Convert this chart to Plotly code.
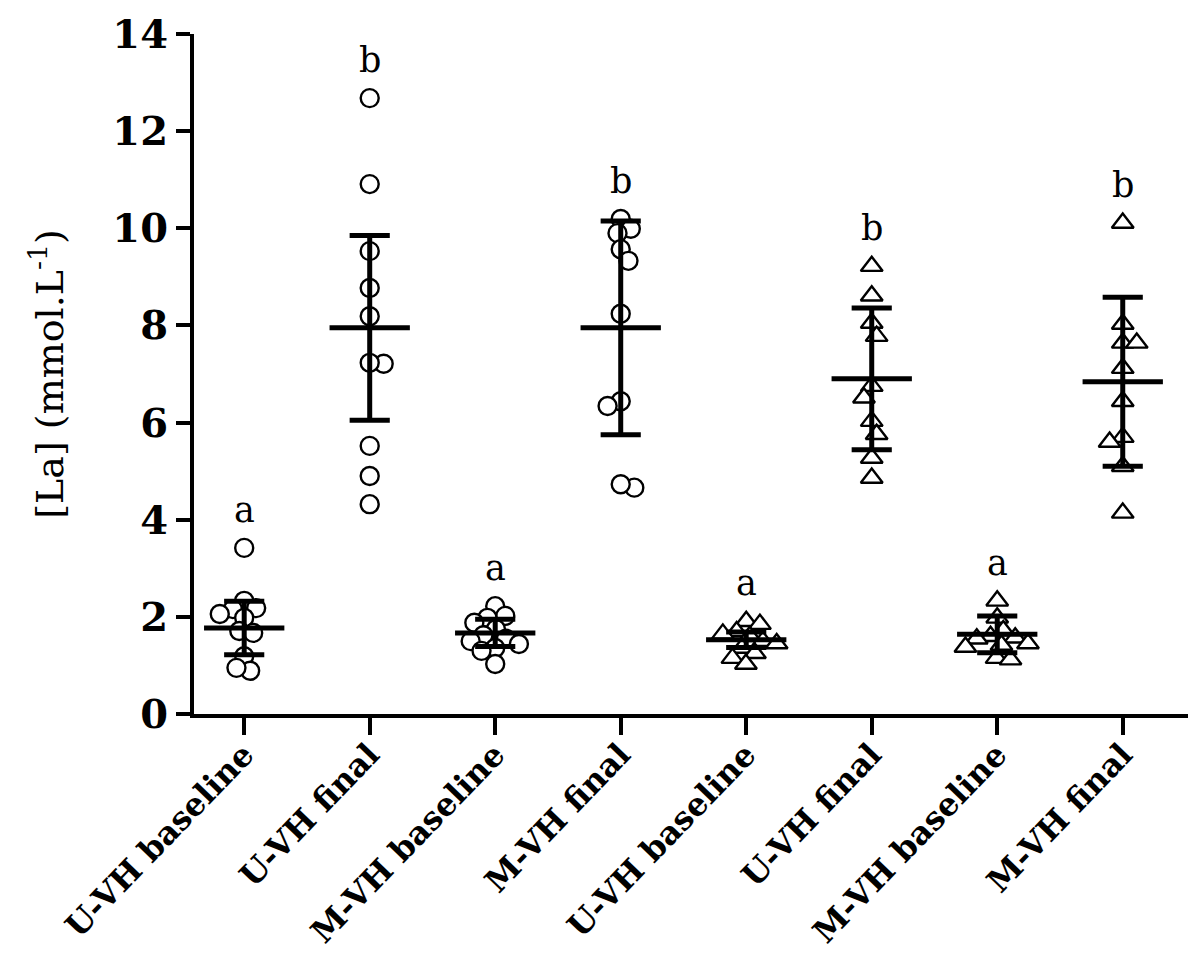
import numpy as np
import plotly.graph_objects as go

# categories along x (two circle groups, two triangle groups)
groups = ["U-VH baseline", "U-VH final", "M-VH baseline", "M-VH final",
          "U-VH baseline", "U-VH final", "M-VH baseline", "M-VH final"]

# blood lactate, mmol/L
circ_u_base = [3.42, 2.33, 2.16, 2.18, 1.98, 2.06, 1.71, 1.67, 1.19, 0.89, 0.95]
circ_u_final = [12.68, 10.91, 9.53, 8.77, 8.19, 7.21, 7.23, 5.52, 4.90, 4.32]
circ_m_base = [2.22, 2.02, 1.98, 1.88, 1.75, 1.62, 1.55, 1.50, 1.44, 1.36, 1.30, 1.03]
circ_m_final = [10.19, 9.99, 9.90, 9.57, 9.33, 8.24, 6.44, 6.34, 4.66, 4.73]
tri_u_base = [1.91, 1.85, 1.70, 1.65, 1.60, 1.50, 1.45, 1.36, 1.25, 1.15, 1.03]
tri_u_final = [9.22, 8.61, 8.05, 7.78, 6.75, 6.51, 6.03, 5.76, 5.27, 4.86]
tri_m_base = [2.33, 1.98, 1.72, 1.60, 1.57, 1.55, 1.45, 1.42, 1.38, 1.15, 1.12]
tri_m_final = [10.11, 8.03, 7.64, 7.64, 7.12, 6.44, 5.70, 5.60, 5.10, 4.14]

series = [circ_u_base, circ_u_final, circ_m_base, circ_m_final,
          tri_u_base, tri_u_final, tri_m_base, tri_m_final]
symbols = ["circle"] * 4 + ["triangle-up"] * 4

# mean and SD bars as drawn
means = [1.77, 7.95, 1.67, 7.95, 1.53, 6.90, 1.64, 6.84]
sds = [0.55, 1.90, 0.28, 2.20, 0.16, 1.46, 0.38, 1.74]

letters = ["a", "b", "a", "b", "a", "b", "a", "b"]

y_ticks = [0, 2, 4, 6, 8, 10, 12, 14]

W, H = 1200, 975
M_L, M_R, M_T, M_B = 186, 20, 26, 269
X_RANGE = [-0.4, 7.52]
Y_RANGE = [0, 14]
px_x = (W - M_L - M_R) / (X_RANGE[1] - X_RANGE[0])
px_y = (H - M_T - M_B) / (Y_RANGE[1] - Y_RANGE[0])


def swarm(vals, diam):
    # simple beeswarm: put each point as close to the centre as it can go
    ys = np.asarray(vals, dtype=float) * px_y
    xs = np.zeros(len(ys))
    placed = []
    side = 1
    for i in np.argsort(-ys):
        y = ys[i]
        cands = [0.0]
        for xp, yp in placed:
            dy = abs(y - yp)
            if dy < diam:
                dx = np.sqrt(diam ** 2 - dy ** 2)
                cands += [xp + dx, xp - dx]
        ok = [c for c in cands
              if all((c - xp) ** 2 + (y - yp) ** 2 >= diam ** 2 - 1e-6 for xp, yp in placed)]
        best = min(ok, key=lambda c: (round(abs(c), 2), -c * side))
        if best != 0:
            side = -side
        xs[i] = best
        placed.append((best, y))
    return xs / px_x


fig = go.Figure()

for i, vals in enumerate(series):
    offs = swarm(vals, 14)
    fig.add_trace(go.Scatter(
        x=i + offs, y=vals, mode="markers",
        marker=dict(symbol=symbols[i], size=18 if symbols[i] == "circle" else 19,
                    color="white", line=dict(color="black", width=2.4)),
        showlegend=False, hoverinfo="y"))

# mean line, SD whisker and caps
bx, by = [], []
for i, (m, s) in enumerate(zip(means, sds)):
    bx += [i - 0.32, i + 0.32, None, i, i, None,
           i - 0.16, i + 0.16, None, i - 0.16, i + 0.16, None]
    by += [m, m, None, m - s, m + s, None,
           m + s, m + s, None, m - s, m - s, None]
fig.add_trace(go.Scatter(x=bx, y=by, mode="lines",
                         line=dict(color="black", width=5),
                         showlegend=False, hoverinfo="skip"))

for i, (lab, vals) in enumerate(zip(letters, series)):
    fig.add_annotation(x=i, y=max(vals), text=lab, showarrow=False,
                       yanchor="bottom", yshift=16,
                       font=dict(family="DejaVu Serif", size=35, color="black"))

fig.update_xaxes(
    range=X_RANGE, tickmode="array", tickvals=list(range(len(groups))),
    ticktext=["<b>%s</b>" % g for g in groups], tickangle=-46,
    ticklabelstandoff=-12,
    showline=True, linecolor="black", linewidth=4,
    ticks="outside", ticklen=17, tickwidth=4, tickcolor="black",
    showgrid=False, zeroline=False,
    tickfont=dict(family="DejaVu Serif", size=32, color="black"))
fig.update_yaxes(
    range=Y_RANGE, tickmode="array", tickvals=y_ticks,
    ticktext=["<b>%d</b>" % t for t in y_ticks],
    showline=True, linecolor="black", linewidth=4,
    ticks="outside", ticklen=14, tickwidth=4, tickcolor="black",
    showgrid=False, zeroline=False,
    tickfont=dict(family="DejaVu Serif", size=40, color="black"),
    title=dict(text="[La] (mmol.L<sup>-1</sup>)", standoff=38,
               font=dict(family="DejaVu Serif", size=38, color="black")))

fig.update_layout(
    width=W, height=H,
    margin=dict(l=M_L, r=M_R, t=M_T, b=M_B, autoexpand=False),
    plot_bgcolor="white", paper_bgcolor="white")

fig.write_html("out.html")
